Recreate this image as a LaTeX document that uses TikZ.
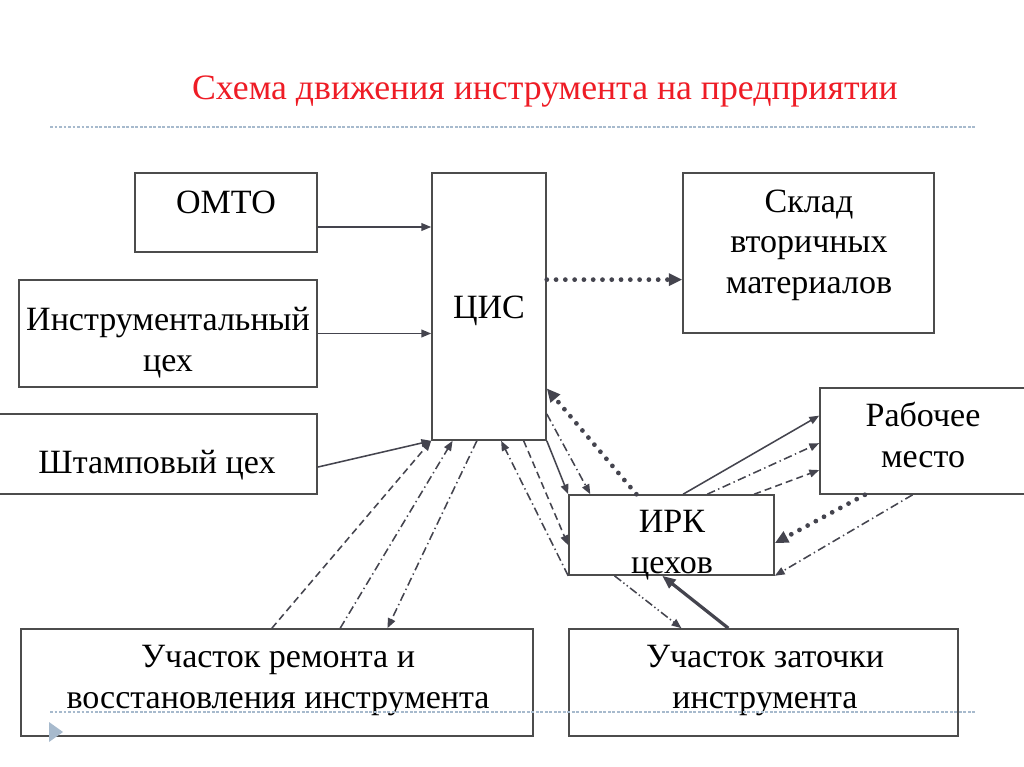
\documentclass[tikz,border=0pt]{standalone}
\usepackage{fontspec}
\setmainfont{Liberation Serif}
\usepackage{tikz}
\usetikzlibrary{positioning,calc,arrows.meta}
\definecolor{linegray}{HTML}{44444E}
\definecolor{titlered}{HTML}{EE1C25}
\definecolor{rulegray}{HTML}{A7BACD}
\tikzset{
    block/.style={
        rectangle,
        draw=black!70,
        line width=1.1pt,
        inner sep=0pt
    },
    boxtext/.style={
        font=\fontsize{24.2}{28.5}\selectfont,
        align=center,
        inner sep=0pt,
        anchor=base
    }
}
\tikzstyle{arrow} = [draw=linegray, line width=1.1pt, -{Triangle[length=7pt,width=5.5pt]}]
\tikzstyle{dashedarrow} = [arrow, dash pattern=on 5pt off 3pt]
\tikzstyle{dotdasharrow} = [arrow, dash pattern=on 6pt off 2.5pt on 1pt off 2.5pt]
\tikzstyle{dotdotarrow} = [arrow, dash pattern=on 6pt off 2pt on 1pt off 2pt on 1pt off 2pt]
\tikzstyle{dotsarrow} = [draw=linegray, line width=3.4pt, line cap=round, dash pattern=on 0pt off 6.6pt, -{Triangle[length=9.5pt,width=8.5pt]}]
\tikzstyle{boldarrow} = [draw=linegray, line width=2.3pt, -{Triangle[length=9.5pt,width=7.5pt]}]
\tikzstyle{rule} = [draw=rulegray, line width=0.8pt, dash pattern=on 2pt off 1.2pt]

\begin{document}
\begin{tikzpicture}[x=0.025cm, y=-0.025cm]
          \useasboundingbox (0,0) rectangle (1024,767);
          \node (title) [font=\fontsize{25.4}{30}\selectfont, text=titlered, anchor=base] at (545,100) {Схема движения инструмента на предприятии};
          % boxes
          \node (omto) [block, minimum width=4.55cm, minimum height=1.975cm] at (226,212.5) {};
          \node (instr) [block, minimum width=7.45cm, minimum height=2.675cm] at (168,333.5) {};
          \node (shtamp) [block, minimum width=7.975cm, minimum height=2cm] at (157.5,454) {};
          \node (cis) [block, minimum width=2.85cm, minimum height=6.675cm] at (489,306.5) {};
          \node (sklad) [block, minimum width=6.275cm, minimum height=4cm] at (808.5,253) {};
          \node (work) [block, minimum width=5.15cm, minimum height=2.65cm] at (923,441) {};
          \node (irk) [block, minimum width=5.125cm, minimum height=2cm] at (671.5,535) {};
          \node (repair) [block, minimum width=12.8cm, minimum height=2.675cm] at (277,682.5) {};
          \node (sharp) [block, minimum width=9.725cm, minimum height=2.675cm] at (763.5,682.5) {};
          % texts (anchor=base sits on the last line)
          \node (omtotext) [boxtext] at (226,214) {ОМТО};
          \node (instrtext) [boxtext] at (168,371) {Инструментальный\\цех};
          \node (shtamptext) [boxtext] at (157,473) {Штамповый цех};
          \node (cistext) [boxtext] at (489,318) {ЦИС};
          \node (skladtext) [boxtext] at (809,293) {Склад\\вторичных\\материалов};
          \node (worktext) [boxtext] at (923,467) {Рабочее\\место};
          \node (irktext) [boxtext] at (672,573) {ИРК\\цехов};
          \node (repairtext) [boxtext] at (278,708) {Участок ремонта и\\восстановления инструмента};
          \node (sharptext) [boxtext] at (765,708) {Участок заточки\\инструмента};
          % slide rules
          \draw [rule] (50,127) -- (975,127);
          \draw [rule] (50,712) -- (975,712);
          \fill [rulegray] (49,722) -- (63,732) -- (49,742) -- cycle;
          % connectors
          \coordinate (omtoout) at ($(omto.north east)!.68!(omto.south east)$);
          \coordinate (cisout) at ($(cis.north east)!.40!(cis.south east)$);
          \draw [arrow] (omtoout) -- (omtoout -| cis.west);
          \draw [arrow] (instr.east) -- (instr.east -| cis.west);
          \draw [arrow] ($(shtamp.north east)!.66!(shtamp.south east)$) -- (cis.south west);
          \draw [dotsarrow] (cisout) -- (cisout -| sklad.west);
          \draw [dotsarrow] ($(irk.north west)!.33!(irk.north east)$) -- ($(cis.north east)!.805!(cis.south east)$);
          \draw [dotdasharrow] ($(cis.north east)!.90!(cis.south east)$) -- ($(irk.north west)!.107!(irk.north east)$);
          \draw [arrow] (cis.south east) -- (irk.north west);
          \draw [dashedarrow] ($(cis.south west)!.80!(cis.south east)$) -- ($(irk.north west)!.625!(irk.south west)$);
          \draw [dotdasharrow] (irk.south west) -- ($(cis.south west)!.605!(cis.south east)$);
          \draw [dotdasharrow] ($(cis.south west)!.395!(cis.south east)$) -- ($(repair.north west)!.715!(repair.north east)$);
          \draw [dashedarrow] ($(repair.north west)!.49!(repair.north east)$) -- (cis.south west);
          \draw [dotdasharrow] ($(repair.north west)!.623!(repair.north east)$) -- ($(cis.south west)!.185!(cis.south east)$);
          \draw [arrow] ($(irk.north west)!.556!(irk.north east)$) -- ($(work.north west)!.264!(work.south west)$);
          \draw [dotdasharrow] ($(irk.north west)!.673!(irk.north east)$) -- ($(work.north west)!.52!(work.south west)$);
          \draw [dashedarrow] ($(irk.north west)!.90!(irk.north east)$) -- ($(work.north west)!.77!(work.south west)$);
          \draw [dotsarrow] ($(work.south west)!.22!(work.south east)$) -- ($(irk.north east)!.60!(irk.south east)$);
          \draw [dotdasharrow] ($(work.south west)!.45!(work.south east)$) -- (irk.south east);
          \draw [dotdotarrow] ($(irk.south west)!.224!(irk.south east)$) -- ($(sharp.north west)!.29!(sharp.north east)$);
          \draw [boldarrow] ($(sharp.north west)!.41!(sharp.north east)$) -- ($(irk.south west)!.455!(irk.south east)$);
        \end{tikzpicture}
\end{document}
